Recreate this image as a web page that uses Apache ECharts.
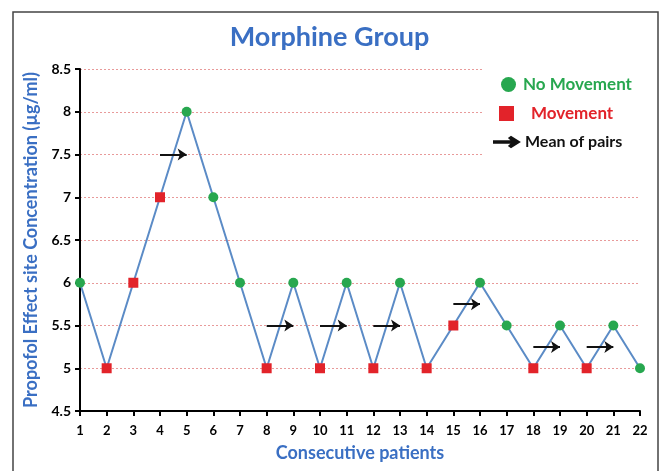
<!DOCTYPE html>
<html>
<head>
<meta charset="utf-8">
<script src="https://cdn.jsdelivr.net/npm/echarts@6/dist/echarts.min.js"></script>
<style>html,body{margin:0;padding:0;background:#fff}#c{width:659px;height:471px}</style>
</head>
<body>
<div id="c"></div>
<script>
// ---- data ----
const patients = [1,2,3,4,5,6,7,8,9,10,11,12,13,14,15,16,17,18,19,20,21,22];
const concentration = [6,5,6,7,8,7,6,5,6,5,6,5,6,5,5.5,6,5.5,5,5.5,5,5.5,5];
// 1 = movement (red square), 0 = no movement (green circle)
const movement = [0,1,1,1,0,0,0,1,0,1,0,1,0,1,1,0,0,1,0,1,0,0];
const pairStart = [4,8,10,12,15,18,20];
const pairEnd   = [5,9,11,13,16,19,21];
const pairMean  = [7.5,5.5,5.5,5.5,5.75,5.25,5.25];
const yTicks = [4.5,5,5.5,6,6.5,7,7.5,8,8.5];

const BLUE_TXT = '#3a6fc3';
const GREEN = '#27a74f';
const RED = '#e2232a';
const FONT = 'Lato';

const lineData = patients.map((p,i)=>[p, concentration[i]]);
const greenData = patients.map((p,i)=>[p, concentration[i], movement[i]]).filter(d=>d[2]===0).map(d=>[d[0],d[1]]);
const redData = patients.map((p,i)=>[p, concentration[i], movement[i]]).filter(d=>d[2]===1).map(d=>[d[0],d[1]]);
const arrowData = pairStart.map((s,i)=>({coords:[[s,pairMean[i]],[pairEnd[i],pairMean[i]]]}));

const chart = echarts.init(document.getElementById('c'), null, {renderer:'canvas'});
chart.setOption({
  animation:false,
  backgroundColor:'#fff',
  textStyle:{fontFamily:FONT},
  title:{
    text:'Morphine Group', left:'center', top:19,
    textStyle:{color:BLUE_TXT, fontSize:27, fontWeight:'bold', fontFamily:FONT}
  },
  graphic:[
    {type:'rect', z:100, shape:{x:13,y:12,width:645,height:470}, style:{fill:'none', stroke:'#444', lineWidth:1.5}},
    {type:'rect', z:3, shape:{x:482,y:62,width:160,height:100}, style:{fill:'#fff'}}
  ],
  legend:[
    {data:[{name:'No Movement', icon:'circle', textStyle:{color:GREEN}}], orient:'vertical', left:501, top:76, padding:0,
     itemWidth:15, itemHeight:15, textStyle:{fontSize:17, fontWeight:'bold', fontFamily:FONT, padding:[0,0,0,2]}},
    {data:[{name:'Movement', icon:'rect', textStyle:{color:RED}}], orient:'vertical', left:499, top:105, padding:0,
     itemWidth:15, itemHeight:15, textStyle:{fontSize:17, fontWeight:'bold', fontFamily:FONT, padding:[0,0,0,12]}},
    {data:[{name:'Mean of pairs', icon:'path://M0,4.2 L19,4.2 L15.5,1 L17,0 L25,5 L17,10 L15.5,9 L19,5.8 L0,5.8 Z', textStyle:{color:'#111'}}],
     orient:'vertical', left:493, top:134, padding:0, itemWidth:25, itemHeight:10,
     textStyle:{fontSize:16, fontWeight:'bold', fontFamily:FONT, padding:[0,0,0,1]}}
  ],
  grid:{left:80, right:19, top:69, bottom:60},
  xAxis:{
    type:'value', min:1, max:22, interval:1,
    name:'Consecutive patients', nameLocation:'middle', nameGap:33,
    nameTextStyle:{color:BLUE_TXT, fontSize:18, fontWeight:'bold', fontFamily:FONT},
    axisLine:{lineStyle:{color:'#000', width:2}},
    axisTick:{show:true, length:5, lineStyle:{color:'#000', width:2}},
    axisLabel:{color:'#000', fontSize:13, fontWeight:'bold', margin:13, fontFamily:FONT},
    splitLine:{show:false}
  },
  yAxis:{
    type:'value', min:4.5, max:8.5, interval:0.5,
    name:'Propofol Effect site Concentration (µg/ml)', nameLocation:'middle', nameGap:39,
    nameTextStyle:{color:BLUE_TXT, fontSize:18, fontWeight:'bold', fontFamily:FONT},
    axisLine:{show:true, lineStyle:{color:'#000', width:2}},
    axisTick:{show:true, length:5, lineStyle:{color:'#000', width:2}},
    axisLabel:{color:'#000', fontSize:14, fontWeight:'bold', margin:9, fontFamily:FONT,
      customValues:yTicks},
    splitLine:{show:true, lineStyle:{color:'#e89a9a', type:[2,2], width:1}}
  },
  series:[
    {type:'line', name:'values', data:lineData, showSymbol:false, z:2,
     lineStyle:{color:'#5b8bc6', width:2}, itemStyle:{color:'#5b8bc6'}},
    {type:'scatter', name:'No Movement', data:greenData, symbol:'circle', symbolSize:10, z:5,
     itemStyle:{color:GREEN, opacity:1}},
    {type:'scatter', name:'Movement', data:redData, symbol:'rect', symbolSize:10, z:5,
     itemStyle:{color:RED, opacity:1}},
    {type:'lines', name:'Mean of pairs', coordinateSystem:'cartesian2d', data:arrowData, z:6,
     symbol:['none','arrow'], symbolSize:9,
     lineStyle:{color:'#111', width:2, opacity:1}, itemStyle:{color:'#111'}}
  ]
});
</script>
</body>
</html>
